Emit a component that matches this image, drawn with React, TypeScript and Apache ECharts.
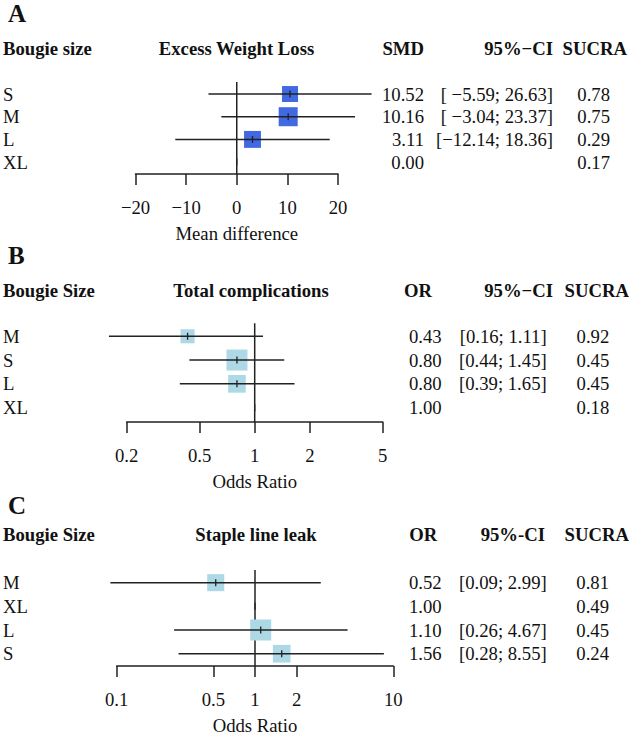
import React, { useEffect, useRef } from "react";
import * as echarts from "echarts";

// ---------- Data ----------
// Panel A: Excess Weight Loss (mean difference)
const aLabels = ["S", "M", "L", "XL"];
const aEst = [10.52, 10.16, 3.11, 0.0];
const aLow: (number | null)[] = [-5.59, -3.04, -12.14, null];
const aHigh: (number | null)[] = [26.63, 23.37, 18.36, null];
const aSucra = [0.78, 0.75, 0.29, 0.17];
const aWeight = [0.84, 1.0, 0.89, 0];
const aTicks = [-20, -10, 0, 10, 20];

// Panel B: Total complications (odds ratio)
const bLabels = ["M", "S", "L", "XL"];
const bEst = [0.43, 0.8, 0.8, 1.0];
const bLow: (number | null)[] = [0.16, 0.44, 0.39, null];
const bHigh: (number | null)[] = [1.11, 1.45, 1.65, null];
const bSucra = [0.92, 0.45, 0.45, 0.18];
const bWeight = [0.67, 1.0, 0.84, 0];
const bTicks = [0.2, 0.5, 1, 2, 5];

// Panel C: Staple line leak (odds ratio)
const cLabels = ["M", "XL", "L", "S"];
const cEst = [0.52, 1.0, 1.1, 1.56];
const cLow: (number | null)[] = [0.09, null, 0.26, 0.28];
const cHigh: (number | null)[] = [2.99, null, 4.67, 8.55];
const cSucra = [0.81, 0.49, 0.45, 0.24];
const cWeight = [0.81, 0, 1.0, 0.84];
const cTicks = [0.1, 0.5, 1, 2, 10];

// ---------- Styling ----------
const FONT = '"Liberation Serif", "Times New Roman", serif';
const FS = 18.7;
const INK = "#111";
const LINE = "#222";
const LW = 1.5;

const fmtNum = (v: number) => (v < 0 ? "\u2212" + Math.abs(v).toFixed(2) : v.toFixed(2));

function ciStrings(low: (number | null)[], high: (number | null)[]) {
  const lo = low.map((v) => (v == null ? "" : fmtNum(v)));
  const hi = high.map((v) => (v == null ? "" : fmtNum(v)));
  const lw = Math.max(...lo.map((s) => s.length));
  const hw = Math.max(...hi.map((s) => s.length));
  return lo.map((s, i) =>
    s === "" ? "" : "[" + " ".repeat(lw - s.length) + s + "; " + " ".repeat(hw - hi[i].length) + hi[i] + "]"
  );
}

interface Panel {
  labels: string[];
  est: number[];
  low: (number | null)[];
  high: (number | null)[];
  sucra: number[];
  weight: number[];
  ticks: number[];
  log: boolean;
  ref: number;
  axisName: string;
  color: string;
  maxSq: number;
  grid: { left: number; width: number; top: number; height: number };
  yMin: number;
  yMax: number;
  valX: number;
  ciX: number;
  sucraX: number;
}

const panels: Panel[] = [
  {
    labels: aLabels, est: aEst, low: aLow, high: aHigh, sucra: aSucra, weight: aWeight, ticks: aTicks,
    log: false, ref: 0, axisName: "Mean difference", color: "#4169e1", maxSq: 19,
    grid: { left: 135.5, width: 202.5, top: 82, height: 91.9 }, yMin: -0.53, yMax: 3.52,
    valX: 424, ciX: 553, sucraX: 610,
  },
  {
    labels: bLabels, est: bEst, low: bLow, high: bHigh, sucra: bSucra, weight: bWeight, ticks: bTicks,
    log: true, ref: 1, axisName: "Odds Ratio", color: "#add8e6", maxSq: 21,
    grid: { left: 126.7, width: 256, top: 323.2, height: 98.7 }, yMin: -0.55, yMax: 3.6,
    valX: 441.7, ciX: 546.7, sucraX: 609.3,
  },
  {
    labels: cLabels, est: cEst, low: cLow, high: cHigh, sucra: cSucra, weight: cWeight, ticks: cTicks,
    log: true, ref: 1, axisName: "Odds Ratio", color: "#add8e6", maxSq: 21,
    grid: { left: 116.7, width: 276.6, top: 569.9, height: 98.3 }, yMin: -0.54, yMax: 3.52,
    valX: 441.7, ciX: 546.7, sucraX: 609,
  },
];

const headers = [
  { letter: "A", letterY: 13, y: 48.5, first: "Bougie size", title: "Excess Weight Loss", titleX: 236.5,
    cols: [{ t: "SMD", x: 424, a: "right" }, { t: "95%\u2212CI", x: 553, a: "right" }, { t: "SUCRA", x: 627, a: "right" }] },
  { letter: "B", letterY: 255, y: 290, first: "Bougie Size", title: "Total complications", titleX: 251,
    cols: [{ t: "OR", x: 432, a: "right" }, { t: "95%\u2212CI", x: 553, a: "right" }, { t: "SUCRA", x: 629, a: "right" }] },
  { letter: "C", letterY: 505, y: 534.5, first: "Bougie Size", title: "Staple line leak", titleX: 256,
    cols: [{ t: "OR", x: 437.3, a: "right" }, { t: "95%-CI", x: 545, a: "right" }, { t: "SUCRA", x: 629, a: "right" }] },
];

function buildOption() {
  const grid: any[] = [];
  const xAxis: any[] = [];
  const yAxis: any[] = [];
  const series: any[] = [];
  const graphic: any[] = [];

  panels.forEach((p, k) => {
    grid.push({ ...p.grid, containLabel: false });
    const tickLabel = (v: number) => (v < 0 ? "\u2212" + Math.abs(v) : String(v));
    const axisBase: any = {
      gridIndex: k,
      position: "bottom",
      splitLine: { show: false },
      axisLine: { show: true, onZero: false, lineStyle: { color: LINE, width: LW } },
      axisTick: { show: true, length: 11, inside: false, lineStyle: { color: LINE, width: LW } },
      axisLabel: { show: true, fontFamily: FONT, fontSize: FS, color: INK, margin: 24, formatter: tickLabel },
      name: p.axisName,
      nameLocation: "middle",
      nameGap: 50,
      nameTextStyle: { fontFamily: FONT, fontSize: FS, color: INK },
    };
    if (p.log) {
      xAxis.push({
        ...axisBase,
        type: "log",
        logBase: 10,
        min: p.ticks[0],
        max: p.ticks[p.ticks.length - 1],
        axisTick: { ...axisBase.axisTick, customValues: p.ticks },
        axisLabel: { ...axisBase.axisLabel, customValues: p.ticks },
      });
    } else {
      xAxis.push({
        ...axisBase,
        type: "value",
        min: p.ticks[0],
        max: p.ticks[p.ticks.length - 1],
        interval: p.ticks[1] - p.ticks[0],
      });
    }
    yAxis.push({ gridIndex: k, type: "value", inverse: true, min: p.yMin, max: p.yMax, show: false });

    // reference line
    series.push({
      type: "line",
      xAxisIndex: k,
      yAxisIndex: k,
      data: [[p.ref, p.yMin], [p.ref, p.yMax]],
      symbol: "none",
      silent: true,
      z: 1,
      lineStyle: { color: LINE, width: LW },
    });

    // CI + squares
    const ciData = p.est.map((e, i) => [
      e, i,
      p.low[i] == null ? e : p.low[i],
      p.high[i] == null ? e : p.high[i],
      p.weight[i],
      p.low[i] == null ? 0 : 1,
    ]);
    series.push({
      type: "custom",
      xAxisIndex: k,
      yAxisIndex: k,
      clip: false,
      z: 3,
      silent: true,
      encode: { x: [0, 2, 3], y: 1 },
      data: ciData,
      renderItem: (params: any, api: any) => {
        const est = api.value(0), row = api.value(1), lo = api.value(2), hi = api.value(3);
        const w = api.value(4), has = api.value(5);
        const c = api.coord([est, row]);
        const children: any[] = [];
        const s = w * p.maxSq;
        if (s > 0) {
          children.push({ type: "rect", shape: { x: c[0] - s / 2, y: c[1] - s / 2, width: s, height: s }, style: { fill: p.color } });
        }
        if (has) {
          const a = api.coord([lo, row]);
          const b = api.coord([hi, row]);
          children.push({ type: "line", shape: { x1: a[0], y1: c[1], x2: b[0], y2: c[1] }, style: { stroke: LINE, lineWidth: LW } });
        }
        children.push({ type: "line", shape: { x1: c[0], y1: c[1] - 3.5, x2: c[0], y2: c[1] + 3.5 }, style: { stroke: LINE, lineWidth: 1.3 } });
        return { type: "group", children };
      },
    });

    // text columns
    const ci = ciStrings(p.low, p.high);
    series.push({
      type: "custom",
      xAxisIndex: k,
      yAxisIndex: k,
      clip: false,
      z: 4,
      silent: true,
      encode: { x: 0, y: 1 },
      data: p.est.map((e, i) => [e, i]),
      renderItem: (params: any, api: any) => {
        const i = params.dataIndex;
        const y = api.coord([api.value(0), api.value(1)])[1];
        const st = (text: string, align: string) => ({ text, fontFamily: FONT, fontSize: FS, fill: INK, align, verticalAlign: "middle" });
        return {
          type: "group",
          children: [
            { type: "text", x: 3, y, style: st(p.labels[i], "left") },
            { type: "text", x: p.valX, y, style: st(fmtNum(p.est[i]), "right") },
            { type: "text", x: p.ciX, y, style: st(ci[i], "right") },
            { type: "text", x: p.sucraX, y, style: st(p.sucra[i].toFixed(2), "right") },
          ],
        };
      },
    });
  });

  headers.forEach((h) => {
    const bold = (text: string, x: number, y: number, align: string, size = FS) => ({
      type: "text", x, y, silent: true,
      style: { text, fontFamily: FONT, fontSize: size, fontWeight: "bold", fill: INK, align, verticalAlign: "middle" },
    });
    graphic.push(bold(h.letter, 8, h.letterY, "left", 25));
    graphic.push(bold(h.first, 3, h.y, "left"));
    graphic.push(bold(h.title, h.titleX, h.y, "center"));
    h.cols.forEach((c) => graphic.push(bold(c.t, c.x, h.y, c.a)));
  });

  return {
    animation: false,
    backgroundColor: "#fff",
    grid,
    xAxis,
    yAxis,
    series,
    graphic,
  };
}

export default function App() {
  const ref = useRef<HTMLDivElement>(null);
  useEffect(() => {
    document.body.style.margin = "0";
    if (!ref.current) return;
    const chart = echarts.init(ref.current, undefined, { renderer: "svg" });
    chart.setOption(buildOption() as any);
    return () => chart.dispose();
  }, []);
  return <div ref={ref} style={{ width: 629, height: 736 }} />;
}
